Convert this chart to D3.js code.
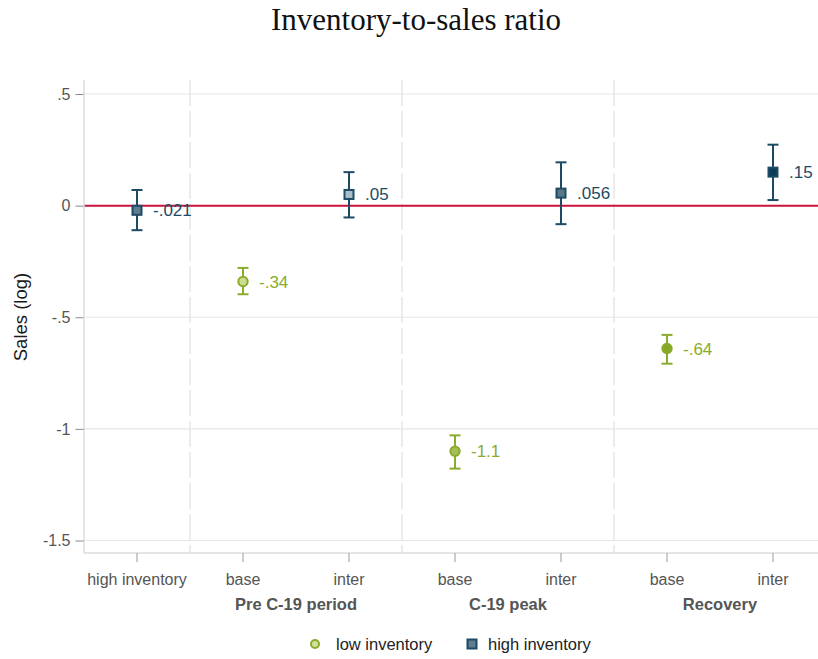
<!DOCTYPE html>
<html>
<head>
<meta charset="utf-8">
<script src="https://cdn.jsdelivr.net/npm/d3@7"></script>
<style>
  html, body { margin: 0; padding: 0; background: #fff; }
  svg { display: block; }
</style>
</head>
<body>
<div id="chart"></div>
<script>
// Coefficient estimates with confidence intervals, by period and inventory group
const tickLabels = ["high inventory", "base", "inter", "base", "inter", "base", "inter"];
const periodLabels = ["Pre C-19 period", "C-19 peak", "Recovery"];
const periodSpan = [[1, 2], [3, 4], [5, 6]];
const estimates = [-0.021, -0.34, 0.05, -1.1, 0.056, -0.64, 0.15];
const lowerCI = [-0.11, -0.397, -0.053, -1.178, -0.083, -0.708, 0.025];
const upperCI = [0.07, -0.279, 0.15, -1.029, 0.194, -0.579, 0.273];
const valueLabels = ["-.021", "-.34", ".05", "-1.1", ".056", "-.64", ".15"];
const group = ["high", "low", "high", "low", "high", "low", "high"];
const yTicks = [0.5, 0, -0.5, -1, -1.5];
const yTickLabels = [".5", "0", "-.5", "-1", "-1.5"];
const legendLabels = ["low inventory", "high inventory"];

const W = 818, H = 659;
const plot = { left: 84, top: 80, bottom: 553, right: 818 };
const navy = "#1d4a64", green = "#8aab2b";
const pointFill = ["#5e7d8d", "#cbdd8e", "#a8bfc9", "#a2bf55", "#587888", "#86a824", "#0e3a55"];
const textGrey = "#555555";
const gridGrey = "#e6e6e6";
const sans = "'Liberation Sans', Arial, sans-serif";

const svg = d3.select("#chart").append("svg")
  .attr("width", W).attr("height", H);

const idx = d3.range(tickLabels.length);
const x = d3.scaleBand().domain(idx).range([84, 84 + 106 * idx.length]).paddingInner(0).paddingOuter(0);
const xc = i => x(i) + x.bandwidth() / 2;
const y = d3.scaleLinear().domain([-1.5, 0.5]).range([540.5, 94]);

// Title
svg.append("text")
  .attr("x", 416).attr("y", 29.5)
  .attr("text-anchor", "middle")
  .attr("font-family", "'Liberation Serif', 'Times New Roman', serif")
  .attr("font-size", 31)
  .attr("fill", "#111")
  .text("Inventory-to-sales ratio");

svg.append("defs").append("clipPath").attr("id", "plotclip")
  .append("rect").attr("x", plot.left).attr("y", plot.top)
  .attr("width", plot.right - plot.left).attr("height", plot.bottom - plot.top);

const gPlot = svg.append("g").attr("clip-path", "url(#plotclip)");

// Horizontal gridlines
gPlot.selectAll("line.hgrid").data(yTicks).join("line")
  .attr("class", "hgrid")
  .attr("x1", plot.left).attr("x2", plot.right)
  .attr("y1", d => y(d)).attr("y2", d => y(d))
  .attr("stroke", gridGrey).attr("stroke-width", 1.2);

// Dashed separators between periods
const seps = [1, 3, 5];
gPlot.selectAll("line.sep").data(seps).join("line")
  .attr("class", "sep")
  .attr("x1", d => x(d)).attr("x2", d => x(d))
  .attr("y1", plot.top).attr("y2", plot.bottom)
  .attr("stroke", gridGrey).attr("stroke-width", 1.5)
  .attr("stroke-dasharray", "26,5");

// Plot frame: left and bottom
svg.append("line")
  .attr("x1", plot.left).attr("x2", plot.left)
  .attr("y1", plot.top).attr("y2", plot.bottom)
  .attr("stroke", "#dcdcdc").attr("stroke-width", 1.5);
svg.append("line")
  .attr("x1", plot.left).attr("x2", plot.right)
  .attr("y1", plot.bottom).attr("y2", plot.bottom)
  .attr("stroke", "#dcdcdc").attr("stroke-width", 1.5);

// Zero reference line
gPlot.append("line")
  .attr("x1", plot.left).attr("x2", plot.right)
  .attr("y1", y(0)).attr("y2", y(0))
  .attr("stroke", "#c9143d").attr("stroke-width", 2);

// Y axis
const yAxis = d3.axisLeft(y).tickValues(yTicks)
  .tickFormat((d, i) => yTickLabels[i]).tickSize(8).tickPadding(5);
const gy = svg.append("g").attr("transform", `translate(${plot.left - 0.5},0)`).call(yAxis);
gy.select(".domain").remove();
gy.selectAll(".tick line").attr("stroke", "#8a8a8a").attr("stroke-width", 1);
gy.selectAll(".tick text")
  .attr("font-family", sans)
  .attr("font-size", 16).attr("fill", textGrey);

svg.append("text")
  .attr("transform", `translate(27,${317}) rotate(-90)`)
  .attr("text-anchor", "middle")
  .attr("font-family", sans)
  .attr("font-size", 18.5).attr("fill", "#1a1a1a")
  .text("Sales (log)");

// X axis
const xAxis = d3.axisBottom(x).tickFormat(i => tickLabels[i]).tickSize(9).tickPadding(12);
const gx = svg.append("g").attr("transform", `translate(0,${plot.bottom})`).call(xAxis);
gx.select(".domain").remove();
gx.selectAll(".tick line").attr("stroke", "#9a9a9a").attr("stroke-width", 1);
gx.selectAll(".tick text")
  .attr("font-family", sans)
  .attr("font-size", 16).attr("fill", textGrey);

// Period labels
svg.selectAll("text.period").data(periodLabels).join("text")
  .attr("class", "period")
  .attr("x", (d, i) => (xc(periodSpan[i][0]) + xc(periodSpan[i][1])) / 2)
  .attr("y", 609.5)
  .attr("text-anchor", "middle")
  .attr("font-family", sans)
  .attr("font-weight", "bold")
  .attr("font-size", 16.5).attr("fill", textGrey)
  .text(d => d);

// Confidence intervals and point estimates
const gPts = svg.append("g");
const color = i => group[i] === "high" ? navy : green;
idx.forEach(i => {
  const cx = xc(i);
  const g = gPts.append("g");
  g.append("line")
    .attr("x1", cx).attr("x2", cx)
    .attr("y1", y(upperCI[i])).attr("y2", y(lowerCI[i]))
    .attr("stroke", color(i)).attr("stroke-width", 2);
  [upperCI[i], lowerCI[i]].forEach(v => {
    g.append("line")
      .attr("x1", cx - 5.5).attr("x2", cx + 5.5)
      .attr("y1", y(v)).attr("y2", y(v))
      .attr("stroke", color(i)).attr("stroke-width", 2);
  });
  if (group[i] === "high") {
    g.append("rect")
      .attr("x", cx - 4.5).attr("y", y(estimates[i]) - 4.5)
      .attr("width", 9).attr("height", 9)
      .attr("fill", pointFill[i]).attr("stroke", navy).attr("stroke-width", 2);
  } else {
    g.append("circle")
      .attr("cx", cx).attr("cy", y(estimates[i])).attr("r", 4.7)
      .attr("fill", pointFill[i]).attr("stroke", green).attr("stroke-width", 2);
  }
  g.append("text")
    .attr("x", cx + 16).attr("y", y(estimates[i]) + 6)
    .attr("font-family", sans)
    .attr("font-size", 17).attr("fill", color(i))
    .text(valueLabels[i]);
});

// Legend
const gLeg = svg.append("g");
gLeg.append("circle").attr("cx", 315).attr("cy", 644).attr("r", 4)
  .attr("fill", "#d2e29c").attr("stroke", green).attr("stroke-width", 2);
gLeg.append("text").attr("x", 336).attr("y", 650)
  .attr("font-family", sans)
  .attr("font-size", 16.5).attr("fill", "#222").text(legendLabels[0]);
gLeg.append("rect").attr("x", 467.5).attr("y", 639.5).attr("width", 9).attr("height", 9)
  .attr("fill", "#5e7d8d").attr("stroke", navy).attr("stroke-width", 2);
gLeg.append("text").attr("x", 488).attr("y", 650)
  .attr("font-family", sans)
  .attr("font-size", 16.5).attr("fill", "#222").text(legendLabels[1]);
</script>
</body>
</html>
